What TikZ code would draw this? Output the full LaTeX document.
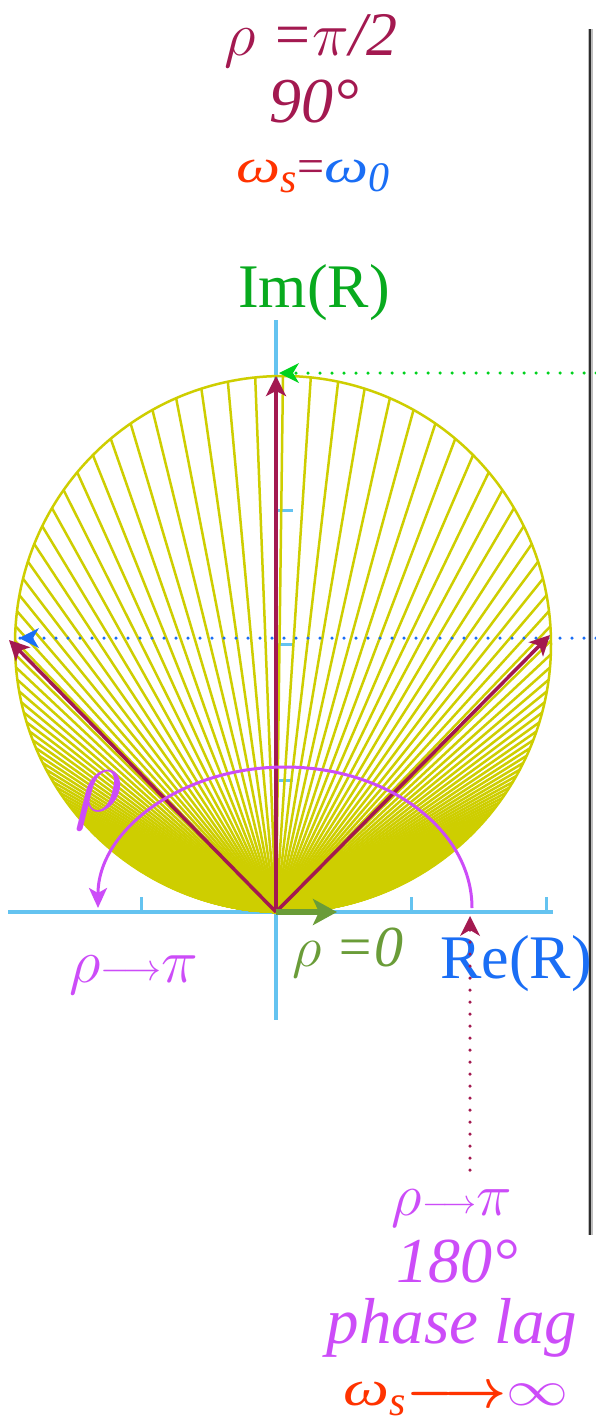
\documentclass[tikz,border=0pt]{standalone}
\usepackage{fix-cm}
\usepackage{fontspec}
\usepackage{graphicx}
\setmainfont{Liberation Serif}
\usetikzlibrary{arrows.meta,calc}
\definecolor{cMaroon}{RGB}{163,25,80}
\definecolor{cMag}{RGB}{204,76,248}
\definecolor{cRed}{RGB}{255,51,0}
\definecolor{cBlue}{RGB}{26,110,245}
\definecolor{cGreenT}{RGB}{8,170,30}
\definecolor{cGreenD}{RGB}{0,210,30}
\definecolor{cOlive}{RGB}{106,156,56}
\definecolor{cAxis}{RGB}{100,195,240}
\definecolor{cFan}{RGB}{206,206,0}
\definecolor{cBar}{RGB}{45,45,45}
\newcommand{\grho}{\ensuremath{\rho}}
\newcommand{\gpi}{\ensuremath{\pi}}
\newcommand{\gom}{\scalebox{1.3}[1]{\itshape ω}}
\tikzset{
  lbl/.style={inner sep=0pt, anchor=base},
  fs/.style={font=\fontsize{#1}{#1}\selectfont},
  axisline/.style={draw=cAxis, line width=3.5pt},
  tick/.style={draw=cAxis, line width=3pt},
  fanline/.style={draw=cFan, line width=2.5pt},
  vec/.style={draw=cMaroon, line width=3.5pt, -{Stealth[length=20pt,width=20pt,inset=5pt]}},
  dotline/.style={line width=3.5pt, line cap=round, dash pattern=on 0pt off 12pt},
}
\begin{document}
\begin{tikzpicture}[x=1pt,y=-1pt]
\useasboundingbox (0,0) rectangle (596,1424);
\fill[white] (0,0) rectangle (596,1424);

% coordinates
\coordinate (O) at (276,912);
\coordinate (C) at (283,644);
\coordinate (axL) at (8,912);
\coordinate (axR) at (553,912);
\coordinate (axT) at (276,320);
\coordinate (axB) at (276,1020);

% vertical bar
\draw[line width=5pt, draw=black!25] (590,29) -- (590,1235);
\draw[line width=2.5pt, draw=cBar] (590,29) -- (590,1235);

% axes
\draw[axisline] (axL) -- (axR);
\draw[axisline] (axT) -- (axB);
\foreach \x in {141,411,546} { \draw[tick] (\x,912) -- (\x,897); }
\foreach \y in {510,644,780} { \draw[tick] (277,\y) -- (293,\y); }

% fan of chords
\foreach \i in {-320,...,320} {
  \pgfmathsetmacro{\th}{90+2*atan(0.052*\i)}
  \draw[fanline] (O) -- ($(C)+(-\th:268)$);
}
\draw[fanline] (C) circle[radius=268pt];

% labels on the axes
\node[lbl, fs=62, text=cGreenT] (imR) at (314,307) {Im(R)};
\node[lbl, fs=62, text=cBlue] (reR) at (516,978) {Re(R)};

% dotted projections
\coordinate (gS) at (596,373);
\coordinate (gT) at (279,373);
\draw[dotline, draw=cGreenD] (gS) -- (gT);
\draw[fill=cGreenD, draw=none] (gT) -- ++(20,-10) -- ++(-6,10) -- ++(6,10) -- cycle;
\coordinate (bS) at (596,638);
\coordinate (bT) at (19,638);
\draw[dotline, draw=cBlue] (bS) -- (bT);
\draw[fill=cBlue, draw=none] (bT) -- ++(20,-10) -- ++(-6,10) -- ++(6,10) -- cycle;

% phase vectors
\coordinate (Tup) at (276,376);
\coordinate (Tleft) at (9,640);
\coordinate (Tright) at (550,635);
\draw[vec] (O) -- (Tup);
\draw[vec] (O) -- (Tleft);
\draw[vec] (O) -- (Tright);

% rho = 0 arrow
\coordinate (Tzero) at (337,912);
\draw[draw=cOlive, line width=6pt, -{Stealth[length=24pt,width=26pt,inset=6pt]}] (O) -- (Tzero);

% phase arc
\coordinate (arcS) at (472,908);
\draw[draw=cMag, line width=3pt, -{Stealth[length=20pt,width=18pt,inset=5pt]}] (arcS) arc[start angle=0, end angle=180, x radius=187pt, y radius=141pt];

% texts
\node[lbl, fs=62, text=cMaroon] (t1) at (311,55) {\itshape \grho\ =\gpi/2};
\node[lbl, fs=64, text=cMaroon] (t2) at (314,122) {\itshape 90°};
\node[lbl, fs=48] (t3) at (313,182) {\itshape\textcolor{cRed}{\gom\raisebox{-10pt}{\fontsize{42}{42}\selectfont s}}\textcolor{cMaroon}{\upshape =}\textcolor{cBlue}{\gom\raisebox{-9pt}{\fontsize{42}{42}\selectfont 0}}};

\node[lbl, fs=94, text=cMag] (bigrho) at (98,811) {\grho};
\node[lbl, fs=62, text=cMag] (rpL) at (134,982) {\grho\raisebox{2pt}{\fontsize{38}{38}\selectfont$\longrightarrow$}\gpi};
\node[lbl, fs=58, text=cOlive] (rz) at (348,966) {\itshape \grho\ =0};

% dotted maroon pointer
\coordinate (mS) at (470,1170);
\coordinate (mT) at (470,916);
\draw[dotline, draw=cMaroon] (mS) -- ($(mT)+(0,14)$);
\draw[fill=cMaroon, draw=none] (mT) -- ++(-10,20) -- ++(10,-6) -- ++(10,6) -- cycle;

\node[lbl, fs=60, text=cMag] (rpB) at (452,1215) {\grho\raisebox{2pt}{\fontsize{34}{34}\selectfont$\longrightarrow$}\gpi};
\node[lbl, fs=64, text=cMag] (t180) at (457,1282) {\itshape 180°};
\node[lbl, fs=65, text=cMag] (plag) at (452,1343) {\itshape phase lag};
\node[lbl, fs=50] (winf) at (456,1405) {\itshape\textcolor{cRed}{\gom\raisebox{-10pt}{\fontsize{42}{42}\selectfont s}\raisebox{-2pt}{\fontsize{54}{54}\selectfont\boldmath$\longrightarrow$}}\textcolor{cMag}{\fontsize{62}{62}\selectfont\scalebox{1}[0.8]{$\infty$}}};
\end{tikzpicture}
\end{document}
